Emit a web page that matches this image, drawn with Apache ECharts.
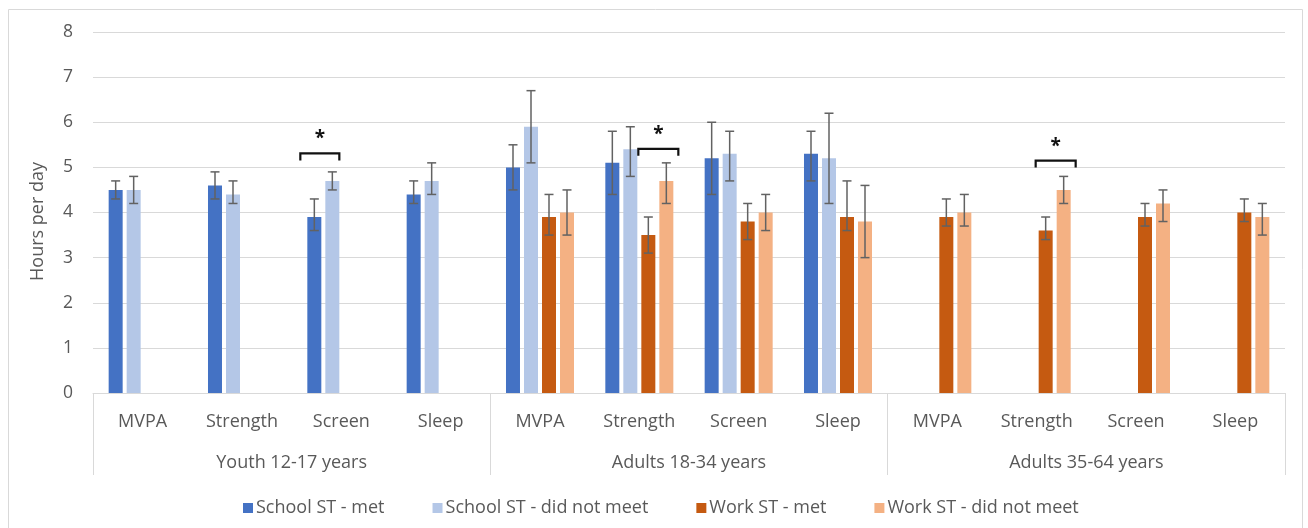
<!DOCTYPE html>
<html>
<head>
<meta charset="utf-8">
<script src="https://cdn.jsdelivr.net/npm/echarts@6/dist/echarts.min.js"></script>
<style>
html,body{margin:0;padding:0;background:#fff;}
#chart{width:1308px;height:528px;}
</style>
</head>
<body>
<div id="chart"></div>
<script>
// ---- data ----
const categories = ['MVPA','Strength','Screen','Sleep','MVPA','Strength','Screen','Sleep','MVPA','Strength','Screen','Sleep'];
const groups = ['Youth 12-17 years','Adults 18-34 years','Adults 35-64 years'];
const seriesNames = ['School ST - met','School ST - did not meet','Work ST - met','Work ST - did not meet'];

const schoolMet      = [4.5, 4.6, 3.9, 4.4, 5.0, 5.1, 5.2, 5.3, null, null, null, null];
const schoolMetLow   = [4.3, 4.3, 3.6, 4.2, 4.5, 4.4, 4.4, 4.7, null, null, null, null];
const schoolMetHigh  = [4.7, 4.9, 4.3, 4.7, 5.5, 5.8, 6.0, 5.8, null, null, null, null];

const schoolNot      = [4.5, 4.4, 4.7, 4.7, 5.9, 5.4, 5.3, 5.2, null, null, null, null];
const schoolNotLow   = [4.2, 4.2, 4.5, 4.4, 5.1, 4.8, 4.7, 4.2, null, null, null, null];
const schoolNotHigh  = [4.8, 4.7, 4.9, 5.1, 6.7, 5.9, 5.8, 6.2, null, null, null, null];

const workMet        = [null, null, null, null, 3.9, 3.5, 3.8, 3.9, 3.9, 3.6, 3.9, 4.0];
const workMetLow     = [null, null, null, null, 3.5, 3.1, 3.4, 3.6, 3.7, 3.4, 3.7, 3.8];
const workMetHigh    = [null, null, null, null, 4.4, 3.9, 4.2, 4.7, 4.3, 3.9, 4.2, 4.3];

const workNot        = [null, null, null, null, 4.0, 4.7, 4.0, 3.8, 4.0, 4.5, 4.2, 3.9];
const workNotLow     = [null, null, null, null, 3.5, 4.2, 3.6, 3.0, 3.7, 4.2, 3.8, 3.5];
const workNotHigh    = [null, null, null, null, 4.5, 5.1, 4.4, 4.6, 4.4, 4.8, 4.5, 4.2];

// significance brackets: [category index, bracket level (hours), pair: 0 = school, 1 = work]
const brackets = [[2, 5.31, 0], [5, 5.41, 1], [9, 5.15, 1]];

const yTicks = [0,1,2,3,4,5,6,7,8];

// ---- styles ----
const colors = ['#4472C4', '#B4C7E7', '#C55A11', '#F4B183'];
const FONT = '"Open Sans", "Noto Sans", sans-serif';
const TXT = '#595959';
const GRID_C = '#d9d9d9';
const BAR_W = 14;
const BAR_OFFSETS = [-27, -9, 9, 27];

const values = [schoolMet, schoolNot, workMet, workNot];
const lows = [schoolMetLow, schoolNotLow, workMetLow, workNotLow];
const highs = [schoolMetHigh, schoolNotHigh, workMetHigh, workNotHigh];

const errData = [];
for (let s = 0; s < 4; s++) {
  for (let i = 0; i < categories.length; i++) {
    if (values[s][i] != null) errData.push([i, lows[s][i], highs[s][i], s]);
  }
}

const chart = echarts.init(document.getElementById('chart'), null, {renderer: 'canvas'});

function renderErr(params, api) {
  const cat = api.value(0), lo = api.value(1), hi = api.value(2), s = api.value(3);
  const pLo = api.coord([cat, lo]);
  const pHi = api.coord([cat, hi]);
  const x = pLo[0] + BAR_OFFSETS[s];
  const st = {stroke: '#626262', lineWidth: 1.5};
  const cap = 4.5;
  return {
    type: 'group',
    children: [
      {type: 'line', shape: {x1: x, y1: pLo[1], x2: x, y2: pHi[1]}, style: st},
      {type: 'line', shape: {x1: x - cap, y1: pHi[1], x2: x + cap, y2: pHi[1]}, style: st},
      {type: 'line', shape: {x1: x - cap, y1: pLo[1], x2: x + cap, y2: pLo[1]}, style: st}
    ]
  };
}

function renderBracket(params, api) {
  const cat = api.value(0), lvl = api.value(1), pair = api.value(2);
  const p = api.coord([cat, lvl]);
  const x1 = p[0] + (pair === 0 ? -41 : -1);
  const x2 = p[0] + (pair === 0 ? -2 : 39);
  const y = p[1];
  const leg = 7;
  return {
    type: 'group',
    children: [
      {type: 'polyline', shape: {points: [[x1, y + leg], [x1, y], [x2, y], [x2, y + leg]]},
       style: {stroke: '#111', lineWidth: 2.2, fill: null}},
      {type: 'text', style: {text: '*', x: (x1 + x2) / 2, y: y - 5, align: 'center', verticalAlign: 'bottom',
        font: 'bold 19px ' + FONT, fill: '#111'}}
    ]
  };
}

const barSeries = seriesNames.map((n, s) => ({
  name: n,
  type: 'bar',
  xAxisIndex: 0,
  data: values[s],
  barWidth: BAR_W,
  barGap: '28.6%',
  itemStyle: {color: colors[s]},
  animation: false
}));

const option = {
  animation: false,
  textStyle: {fontFamily: FONT},
  graphic: [{
    type: 'rect', silent: true, z: -10,
    shape: {x: 8.5, y: 9.5, width: 1294, height: 600},
    style: {fill: 'none', stroke: GRID_C, lineWidth: 1}
  }],
  grid: {left: 93, right: 23, top: 32, bottom: 135, containLabel: false},
  legend: {
    data: seriesNames,
    left: 238, top: 494,
    icon: 'rect', itemWidth: 10, itemHeight: 10, itemGap: 48, itemStyle: {borderWidth: 0},
    textStyle: {fontFamily: FONT, fontSize: 18, color: TXT, padding: [0, 0, 0, -2]}
  },
  xAxis: [
    {
      type: 'category', data: categories, position: 'bottom',
      axisLine: {show: true, lineStyle: {color: GRID_C, width: 1}},
      axisTick: {show: false},
      axisLabel: {interval: 0, margin: 20, fontFamily: FONT, fontSize: 18, color: TXT}
    },
    {
      type: 'category', data: groups, position: 'bottom', offset: 0,
      axisLine: {show: false},
      axisTick: {show: true, length: 82, interval: 0, lineStyle: {color: GRID_C, width: 1}},
      axisLabel: {interval: 0, margin: 61, fontFamily: FONT, fontSize: 18, color: TXT}
    }
  ],
  yAxis: {
    type: 'value', min: yTicks[0], max: yTicks[yTicks.length - 1], interval: 1,
    name: 'Hours per day', nameLocation: 'middle', nameGap: 46, nameRotate: 90,
    nameTextStyle: {fontFamily: FONT, fontSize: 18, color: TXT, padding: [0, 0, 0, -18]},
    axisLine: {show: false}, axisTick: {show: false},
    axisLabel: {margin: 20, fontFamily: FONT, fontSize: 17.5, color: TXT},
    splitLine: {lineStyle: {color: GRID_C, width: 1}}
  },
  series: barSeries.concat([
    {
      name: 'err', type: 'custom', xAxisIndex: 0, renderItem: renderErr,
      data: errData, encode: {x: 0, y: [1, 2]}, z: 5, clip: false, silent: true
    },
    {
      name: 'sig', type: 'custom', xAxisIndex: 0, renderItem: renderBracket,
      data: brackets, encode: {x: 0, y: 1}, z: 6, clip: false, silent: true
    }
  ])
};
chart.setOption(option);
</script>
</body>
</html>
